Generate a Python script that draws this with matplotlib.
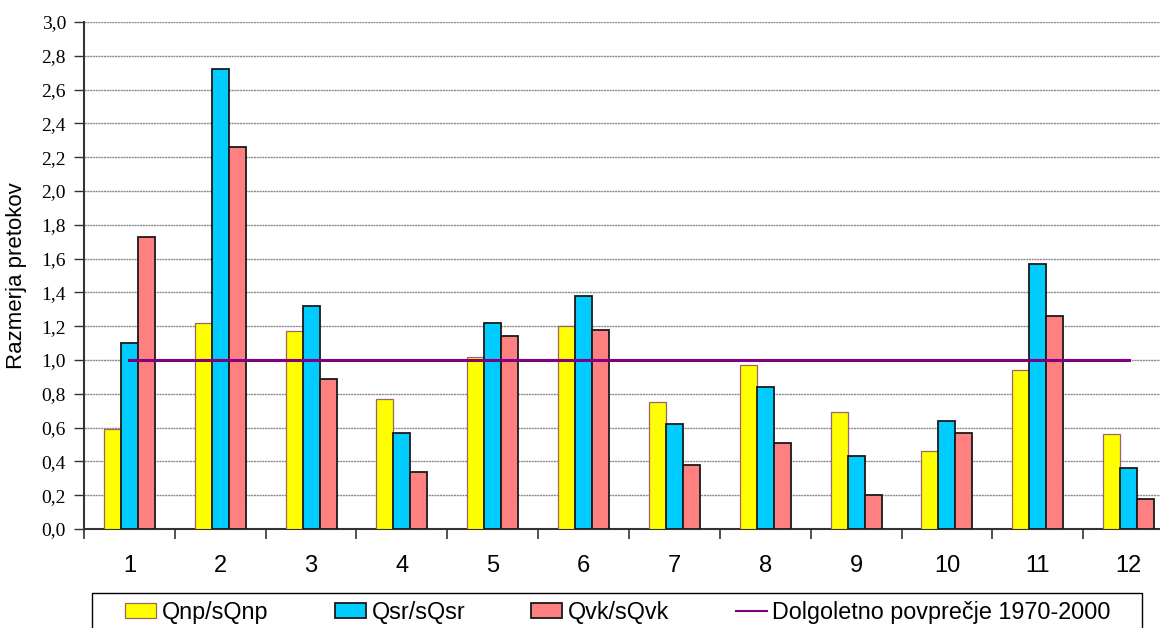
import numpy as np
import matplotlib
matplotlib.use("Agg")
import matplotlib.pyplot as plt
from matplotlib.patches import Rectangle
from matplotlib.ticker import FuncFormatter, MultipleLocator

months = [1, 2, 3, 4, 5, 6, 7, 8, 9, 10, 11, 12]
qnp = [0.59, 1.22, 1.17, 0.77, 1.02, 1.20, 0.75, 0.97, 0.69, 0.46, 0.94, 0.56]
qsr = [1.10, 2.72, 1.32, 0.57, 1.22, 1.38, 0.62, 0.84, 0.43, 0.64, 1.57, 0.36]
qvk = [1.73, 2.26, 0.89, 0.34, 1.14, 1.18, 0.38, 0.51, 0.20, 0.57, 1.26, 0.18]
mean_level = [1.0] * len(months)

series_labels = ["Qnp/sQnp", "Qsr/sQsr", "Qvk/sQvk", "Dolgoletno povprečje 1970-2000"]

W, H = 1160, 628
fig = plt.figure(figsize=(W / 100, H / 100), dpi=100)
# plot area runs slightly past the right edge of the canvas
ax = fig.add_axes([84 / W, 1 - 529 / H, 1090 / W, (529 - 22) / H])

x = np.array(months, dtype=float)
w = 0.187
b1 = ax.bar(x - w, qnp, w, color="#FFFF00", edgecolor="#996666", linewidth=0.9, zorder=3)
b2 = ax.bar(x, qsr, w, color="#00CCFF", edgecolor="#1a1a1a", linewidth=1.3, zorder=3)
b3 = ax.bar(x + w, qvk, w, color="#FF8080", edgecolor="#1a1a1a", linewidth=1.3, zorder=3)
ln, = ax.plot(x, mean_level, color="#800080", linewidth=2.2, zorder=4)

ax.set_xlim(0.5, 12.5)
ax.set_ylim(0, 3.0)
ax.yaxis.set_major_locator(MultipleLocator(0.2))
ax.yaxis.set_major_formatter(FuncFormatter(lambda v, p: f"{v:.1f}".replace(".", ",")))
ax.grid(axis="y", color="#8c8c8c", linewidth=1.0, linestyle=(0, (1.5, 0.5)), zorder=0)
ax.set_axisbelow(True)

# category boundaries get the tick marks, centres carry the labels
ax.set_xticks(np.arange(0.5, 13.0, 1.0))
ax.set_xticklabels([])
ax.set_xticks(x, minor=True)
ax.set_xticklabels([str(m) for m in months], minor=True,
                   fontfamily="Liberation Sans", fontsize=17)
ax.tick_params(axis="x", which="minor", length=0, pad=19)
ax.tick_params(axis="x", which="major", length=7, width=1.2, direction="out", color="#333333")
ax.tick_params(axis="y", length=7, width=1.0, direction="out", color="#333333", pad=6)
for lab in ax.get_yticklabels():
    lab.set_fontfamily("Liberation Serif")
    lab.set_fontsize(14)

for s in ("top", "right"):
    ax.spines[s].set_visible(False)
for s in ("left", "bottom"):
    ax.spines[s].set_color("#333333")
    ax.spines[s].set_linewidth(1.5)

ax.set_ylabel("Razmerja pretokov", fontfamily="Liberation Sans", fontsize=16, labelpad=10)

# legend box runs past the lower edge of the figure
fig.patches.append(Rectangle((92 / W, -0.1), (1142 - 92) / W, 0.1 + (1 - 593 / H),
                             transform=fig.transFigure, fill=False,
                             edgecolor="#000000", linewidth=1.0, zorder=5))

fs = 16.8
fpx = fs * 100 / 72
leg = fig.legend([b1, b2, b3, ln], series_labels, ncol=4,
                 loc="upper left", bbox_to_anchor=(125 / W, 1 - 601 / H),
                 prop={"family": "Liberation Sans", "size": fs},
                 frameon=False,
                 handlelength=31 / fpx, handleheight=14 / fpx,
                 handletextpad=6 / fpx, columnspacing=66 / fpx,
                 borderpad=0.0, borderaxespad=0.0)
for h in leg.legend_handles[3:]:
    h.set_linewidth(1.5)

fig.savefig("out.png", dpi=100)
